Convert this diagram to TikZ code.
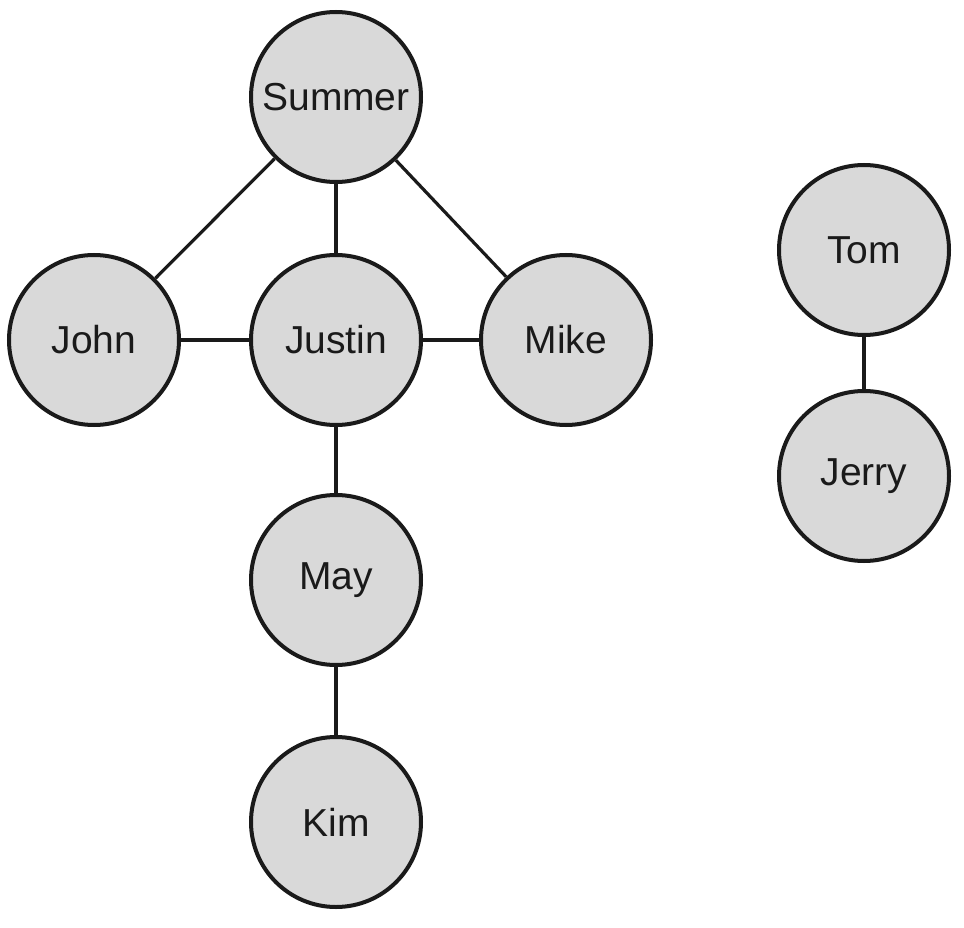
\documentclass[tikz,border=0pt]{standalone}
\usepackage{fontspec}
\setmainfont{Liberation Sans}
\definecolor{nodefill}{HTML}{D9D9D9}
\definecolor{ink}{HTML}{1A1A1A}
\begin{document}
\begin{tikzpicture}[x=1pt,y=-1pt,
  person/.style={circle,draw=ink,fill=nodefill,line width=4pt,minimum size=170pt,inner sep=0pt,text=ink,font=\fontsize{39}{44}\selectfont},
  link/.style={draw=ink,line width=3.2pt}]
\useasboundingbox (0,0) rectangle (964,928);
\node[person] (summer) at (336,97) {Summer};
\node[person] (john) at (94,340) {John};
\node[person] (justin) at (336,340) {Justin};
\node[person] (mike) at (566,340) {Mike};
\node[person] (may) at (336,580) {May};
\node[person] (kim) at (336,822) {Kim};
\node[person] (tom) at (864,250) {Tom};
\node[person] (jerry) at (864,476) {Jerry};
\draw[link] (summer) -- (john);
\draw[link] (summer) -- (justin);
\draw[link] (summer) -- (mike);
\draw[link] (john) -- (justin);
\draw[link] (justin) -- (mike);
\draw[link] (justin) -- (may);
\draw[link] (may) -- (kim);
\draw[link] (tom) -- (jerry);
\end{tikzpicture}
\end{document}
